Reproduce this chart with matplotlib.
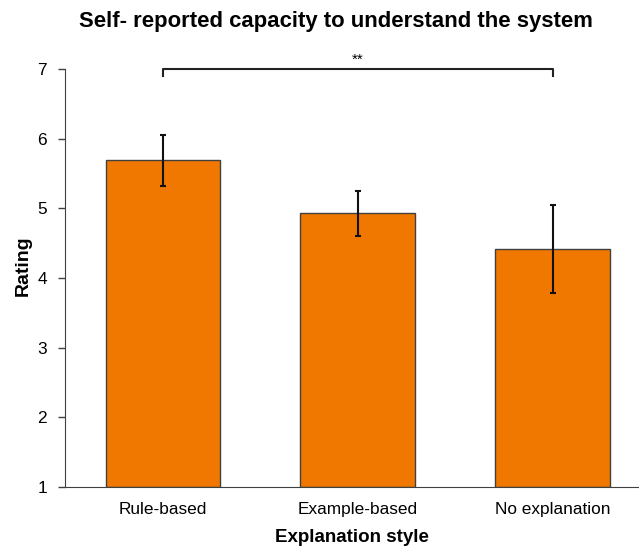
import matplotlib
matplotlib.use("Agg")
import matplotlib.pyplot as plt

categories = ["Rule-based", "Example-based", "No explanation"]
means = [5.69, 4.93, 4.42]
errors = [0.367, 0.325, 0.63]
yticks = [1, 2, 3, 4, 5, 6, 7]

plt.rcParams['font.family'] = ['Liberation Sans', 'DejaVu Sans']

fig = plt.figure(figsize=(6.39, 5.49), dpi=100)
ax = fig.add_axes([0.1017, 0.1135, 0.8983, 0.7603])

x = list(range(len(categories)))
ax.bar(x, [m - 1 for m in means], bottom=1, width=0.59, color='#F07800',
       edgecolor='#404040', linewidth=1.0, zorder=2)
ax.errorbar(x, means, yerr=errors, fmt='none', ecolor='#111111',
            elinewidth=1.5, capsize=2.3, capthick=1.5, zorder=3)

ax.set_ylim(1, 7)
ax.set_xlim(-0.503, 2.443)
ax.set_yticks(yticks)
ax.set_xticks(x)
ax.set_xticklabels(categories, fontsize=12.4)
ax.tick_params(axis='y', labelsize=12.4, length=5, width=1, color='#404040', pad=8)
ax.tick_params(axis='x', length=0, pad=11)

for s in ['top', 'right']:
    ax.spines[s].set_visible(False)
ax.spines['left'].set_color('#404040')
ax.spines['bottom'].set_color('#404040')

# significance bracket
ax.plot([0, 0, 2, 2], [6.91, 7.0, 7.0, 6.91], color='#222222', lw=1.5,
        clip_on=False, zorder=4)
ax.text(1, 7.03, '**', ha='center', va='bottom', fontsize=11)

ax.set_ylabel('Rating', fontsize=14, fontweight='bold', va='center')
ax.yaxis.set_label_coords(-0.072, 0.53)
ax.set_xlabel('Explanation style', fontsize=13.5, fontweight='bold', va='center')
ax.xaxis.set_label_coords(0.5, -0.122)
fig.suptitle('Self- reported capacity to understand the system', fontsize=15.9,
             fontweight='bold', x=0.526, y=0.96, va='center')

fig.savefig('out.png', dpi=100)
